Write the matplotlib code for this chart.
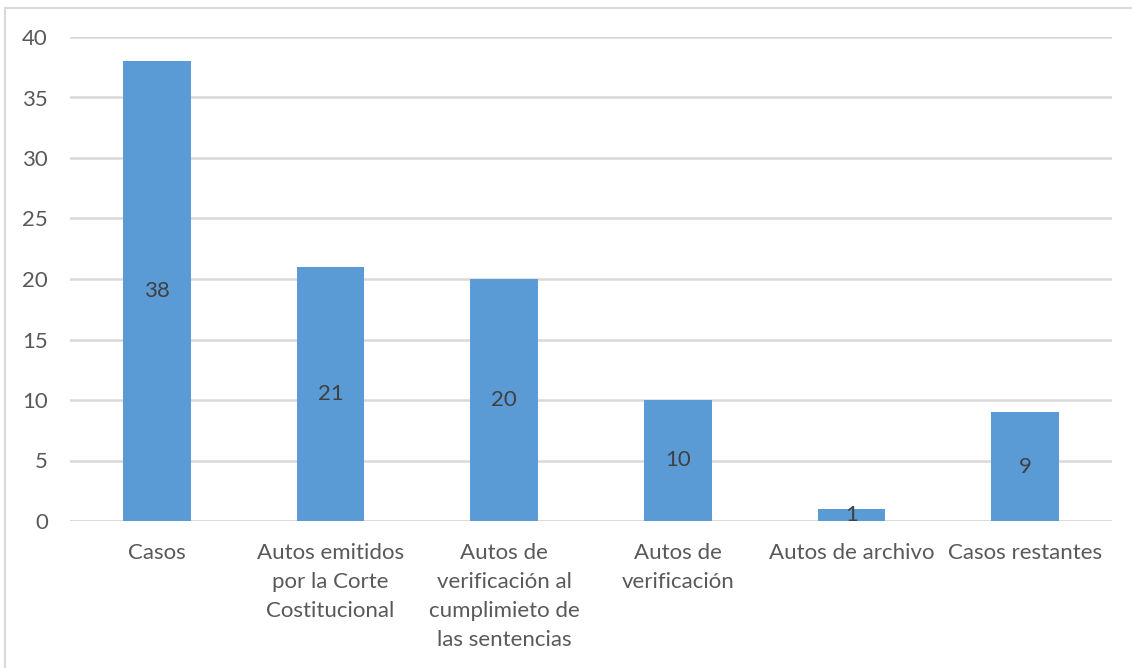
import matplotlib.pyplot as plt
from matplotlib.lines import Line2D

categories = [
    "Casos",
    "Autos emitidos\npor la Corte\nCostitucional",
    "Autos de\nverificación al\ncumplimieto de\nlas sentencias",
    "Autos de\nverificación",
    "Autos de archivo",
    "Casos restantes",
]
values = [38, 21, 20, 10, 1, 9]
y_ticks = [0, 5, 10, 15, 20, 25, 30, 35, 40]

BAR = "#5b9bd5"
GRID = "#d9d9d9"
TEXT = "#595959"
LABEL = "#404040"
FS = 16

plt.rcParams["font.family"] = ["Lato", "DejaVu Sans"]

fig = plt.figure(figsize=(11.32, 6.68), dpi=100)
ax = fig.add_axes([70 / 1132, 1 - 521 / 668, (1112 - 70) / 1132, (521 - 37) / 668])

x = range(len(categories))
bars = ax.bar(x, values, width=0.39, color=BAR, zorder=3)
for xi, v in zip(x, values):
    ax.text(xi, v / 2, str(v), ha="center", va="center",
            fontsize=FS, color=LABEL, zorder=4)

ax.set_xlim(-0.5, len(categories) - 0.5)
ax.set_ylim(0, 40)
ax.set_yticks(y_ticks)
ax.set_xticks(list(x))
ax.set_xticklabels(categories, fontsize=FS, color=TEXT, linespacing=1.55)
ax.tick_params(axis="x", length=0, pad=16)
ax.tick_params(axis="y", length=0, pad=16, labelsize=FS, labelcolor=TEXT)
for t in ax.get_xticklabels():
    t.set_verticalalignment("top")
ax.yaxis.grid(True, color=GRID, linewidth=1.8, zorder=0)
ax.set_axisbelow(True)
for s in ax.spines.values():
    s.set_visible(False)
ax.axhline(0, color=GRID, linewidth=1.8, zorder=2)

# chart area border
fig.add_artist(Line2D([5 / 1132, 5 / 1132], [0, 1 - 8 / 668],
                      transform=fig.transFigure, color=GRID, linewidth=1.5))
fig.add_artist(Line2D([5 / 1132, 1], [1 - 8 / 668, 1 - 8 / 668],
                      transform=fig.transFigure, color=GRID, linewidth=1.5))

fig.savefig("out.png", dpi=100, facecolor="white")
